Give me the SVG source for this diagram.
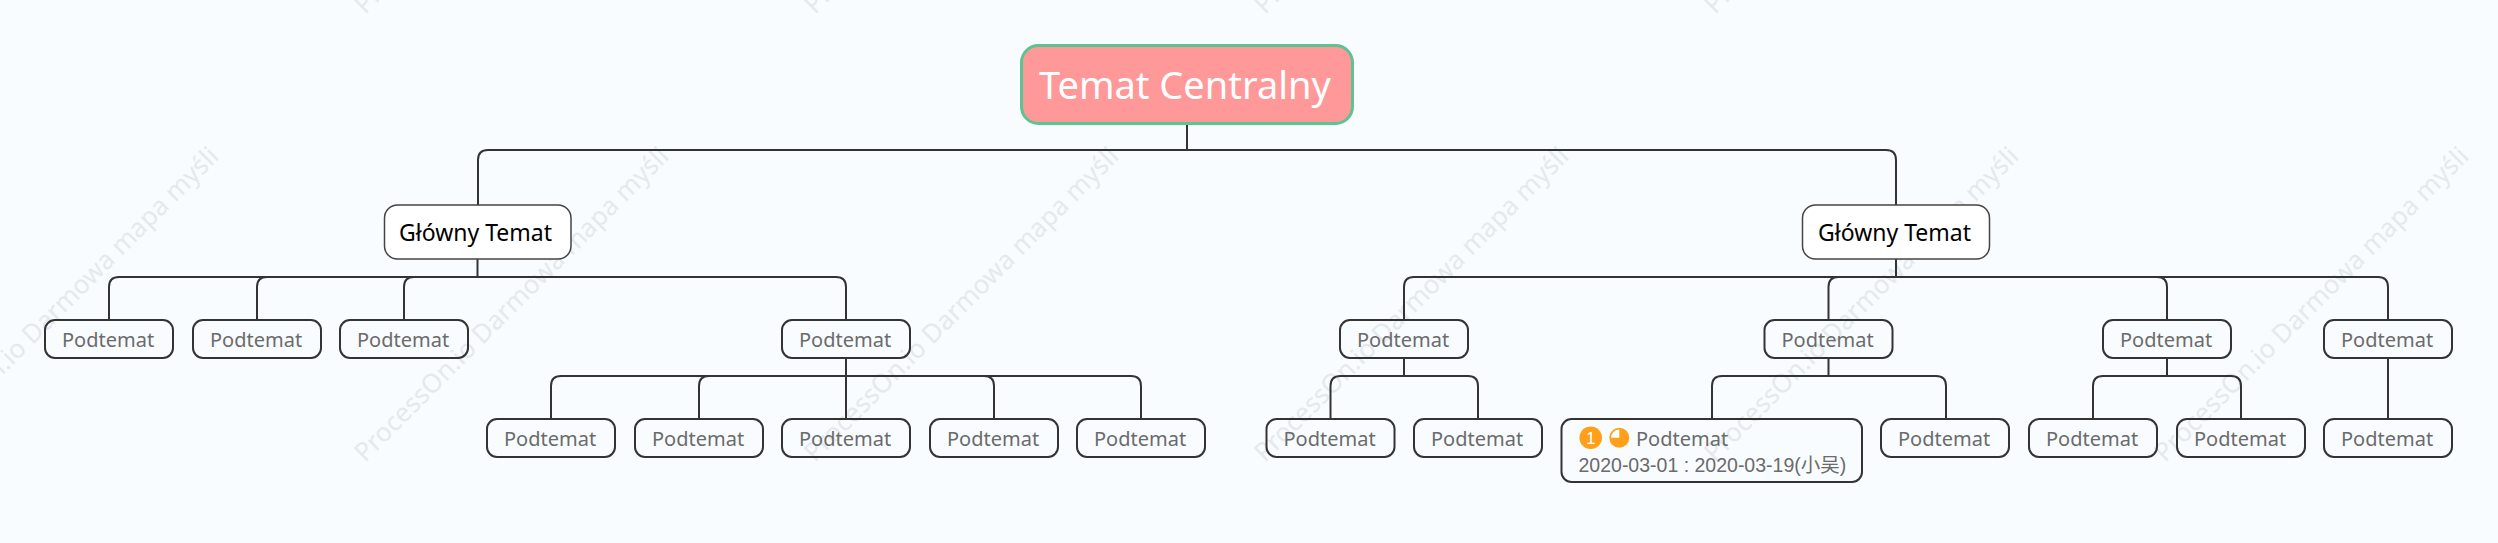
<svg xmlns="http://www.w3.org/2000/svg" width="2498" height="543" viewBox="0 0 2498 543">
<style>
.wm{font:26px "Noto Sans","Open Sans",sans-serif;fill:#e5e9ed}
.c{fill:none;stroke:#333;stroke-width:2}
.b{fill:none;stroke:#333;stroke-width:2}
.m{fill:#fff;stroke:#444;stroke-width:1.5}
.s{font:20px "Noto Sans","Open Sans",sans-serif;fill:#6b6b6b}
.t{font:23px "Noto Sans","Open Sans",sans-serif;fill:#000}
</style>
<defs>
<text id="w" class="wm" x="0" y="0" transform="rotate(-45)">ProcessOn.io Darmowa mapa myśli</text>
</defs>
<rect width="2498" height="543" fill="#f8fcff"/>
<g id="watermark">
<use href="#w" x="-85" y="463"/><use href="#w" x="365" y="463"/><use href="#w" x="815" y="463"/><use href="#w" x="1265" y="463"/><use href="#w" x="1715" y="463"/><use href="#w" x="2165" y="463"/>
<use href="#w" x="365" y="15"/><use href="#w" x="815" y="15"/><use href="#w" x="1265" y="15"/><use href="#w" x="1715" y="15"/>
</g>
<g id="connectors">
<path class="c" d="M1187 125V150M1187 150H488Q478 150 478 160V205M1187 150H1886Q1896 150 1896 160V205"/>
<path class="c" d="M477.500 259V277M478 277H119Q109 277 109 287V320M478 277H267Q257 277 257 287V320M478 277H414Q404 277 404 287V320M478 277H836Q846 277 846 287V320"/>
<path class="c" d="M846 358V376M846 376H561Q551 376 551 386V419M846 376H709Q699 376 699 386V419M846 376V419M846 376H984Q994 376 994 386V419M846 376H1131Q1141 376 1141 386V419"/>
<path class="c" d="M1896 259V277M1896 277H1414Q1404 277 1404 287V320M1896 277H1838.500Q1828.500 277 1828.500 287V320M1896 277H2157Q2167 277 2167 287V320M1896 277H2378Q2388 277 2388 287V320"/>
<path class="c" d="M1404 358V376M1404 376H1340.500Q1330.500 376 1330.500 386V419M1404 376H1468Q1478 376 1478 386V419"/>
<path class="c" d="M1828.500 358V376M1828.500 376H1722Q1712 376 1712 386V419M1828.500 376H1936Q1946 376 1946 386V419"/>
<path class="c" d="M2167 358V376M2167 376H2103Q2093 376 2093 386V419M2167 376H2231Q2241 376 2241 386V419"/>
<path class="c" d="M2388 358V419"/>
</g>
<g id="central"><rect x="1021.500" y="45.500" width="331" height="78" rx="17" fill="#ff9999" stroke="#5cc391" stroke-width="3"/><text x="1039" y="99" font-family="Noto Sans, sans-serif" font-size="38" fill="#fff">Temat Centralny</text></g>
<g id="main-left"><rect class="m" x="384.500" y="205" width="186.500" height="54" rx="13"/><text class="t" x="399" y="241">Główny Temat</text></g>
<g id="main-right"><rect class="m" x="1802.500" y="205" width="187" height="54" rx="13"/><text class="t" x="1818" y="241">Główny Temat</text></g>
<g id="s1"><rect class="b" x="45" y="320" width="128" height="38" rx="10"/><text class="s" x="62" y="346.500">Podtemat</text></g>
<g id="s2"><rect class="b" x="193" y="320" width="128" height="38" rx="10"/><text class="s" x="210" y="346.500">Podtemat</text></g>
<g id="s3"><rect class="b" x="340" y="320" width="128" height="38" rx="10"/><text class="s" x="357" y="346.500">Podtemat</text></g>
<g id="s4"><rect class="b" x="782" y="320" width="128" height="38" rx="10"/><text class="s" x="799" y="346.500">Podtemat</text></g>
<g id="s5"><rect class="b" x="1340" y="320" width="128" height="38" rx="10"/><text class="s" x="1357" y="346.500">Podtemat</text></g>
<g id="s6"><rect class="b" x="1764.500" y="320" width="128" height="38" rx="10"/><text class="s" x="1781.500" y="346.500">Podtemat</text></g>
<g id="s7"><rect class="b" x="2103" y="320" width="128" height="38" rx="10"/><text class="s" x="2120" y="346.500">Podtemat</text></g>
<g id="s8"><rect class="b" x="2324" y="320" width="128" height="38" rx="10"/><text class="s" x="2341" y="346.500">Podtemat</text></g>
<g id="l1"><rect class="b" x="487" y="419" width="128" height="38" rx="10"/><text class="s" x="504" y="445.500">Podtemat</text></g>
<g id="l2"><rect class="b" x="635" y="419" width="128" height="38" rx="10"/><text class="s" x="652" y="445.500">Podtemat</text></g>
<g id="l3"><rect class="b" x="782" y="419" width="128" height="38" rx="10"/><text class="s" x="799" y="445.500">Podtemat</text></g>
<g id="l4"><rect class="b" x="930" y="419" width="128" height="38" rx="10"/><text class="s" x="947" y="445.500">Podtemat</text></g>
<g id="l5"><rect class="b" x="1077" y="419" width="128" height="38" rx="10"/><text class="s" x="1094" y="445.500">Podtemat</text></g>
<g id="l6"><rect class="b" x="1266.500" y="419" width="128" height="38" rx="10"/><text class="s" x="1283.500" y="445.500">Podtemat</text></g>
<g id="l7"><rect class="b" x="1414" y="419" width="128" height="38" rx="10"/><text class="s" x="1431" y="445.500">Podtemat</text></g>
<g id="l8"><rect class="b" x="1561.500" y="419" width="300.500" height="63" rx="10"/>
<circle cx="1590.700" cy="437.700" r="11.300" fill="#ff9f1a"/><text x="1590.700" y="444" text-anchor="middle" font-family="Liberation Sans, sans-serif" font-size="17" fill="#fff">1</text>
<circle cx="1619.300" cy="437.700" r="10" fill="#ff9f1a"/><path d="M1619.300 437.700V429.500A8.200 8.200 0 0 0 1611.100 437.700Z" fill="#fff"/>
<text class="s" x="1636" y="445.500">Podtemat</text>
<text x="1578.500" y="472" font-family="Liberation Sans, Noto Sans CJK SC, sans-serif" font-size="19.500" fill="#6b6b6b">2020-03-01 : 2020-03-19(小吴)</text></g>
<g id="l9"><rect class="b" x="1881" y="419" width="128" height="38" rx="10"/><text class="s" x="1898" y="445.500">Podtemat</text></g>
<g id="l10"><rect class="b" x="2029" y="419" width="128" height="38" rx="10"/><text class="s" x="2046" y="445.500">Podtemat</text></g>
<g id="l11"><rect class="b" x="2177" y="419" width="128" height="38" rx="10"/><text class="s" x="2194" y="445.500">Podtemat</text></g>
<g id="l12"><rect class="b" x="2324" y="419" width="128" height="38" rx="10"/><text class="s" x="2341" y="445.500">Podtemat</text></g>
</svg>
